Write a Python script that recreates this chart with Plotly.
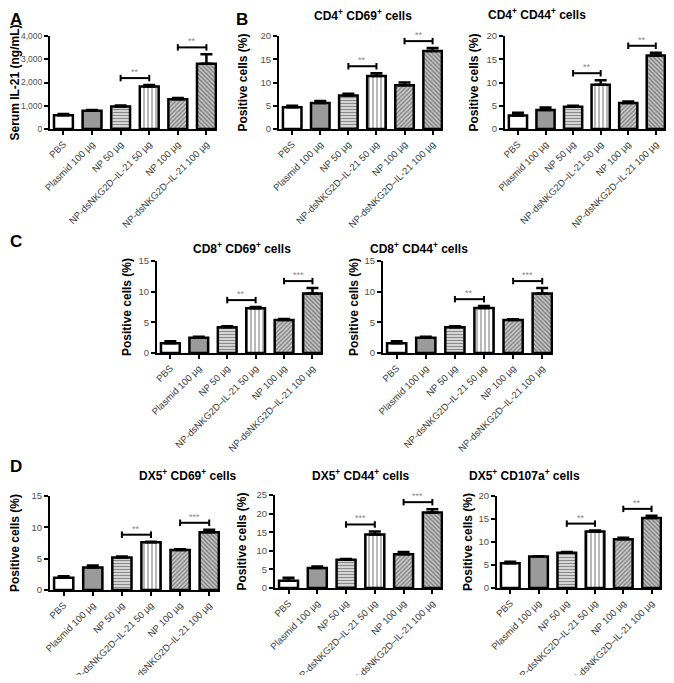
import plotly.graph_objects as go

categories = ["PBS", "Plasmid 100 µg", "NP 50 µg", "NP-dsNKG2D–IL-21 50 µg",
              "NP 100 µg", "NP-dsNKG2D–IL-21 100 µg"]

il21_mean = [590, 790, 970, 1830, 1280, 2810]
il21_err = [60, 30, 40, 60, 50, 400]
cd4_cd69_mean = [4.7, 5.6, 7.2, 11.4, 9.4, 16.8]
cd4_cd69_err = [0.3, 0.4, 0.4, 0.6, 0.6, 0.6]
cd4_cd44_mean = [2.9, 4.1, 4.8, 9.5, 5.6, 15.8]
cd4_cd44_err = [0.6, 0.5, 0.2, 1.0, 0.3, 0.6]
cd8_cd69_mean = [1.6, 2.5, 4.2, 7.3, 5.4, 9.7]
cd8_cd69_err = [0.3, 0.15, 0.15, 0.2, 0.15, 0.9]
cd8_cd44_mean = [1.6, 2.5, 4.2, 7.35, 5.4, 9.7]
cd8_cd44_err = [0.3, 0.15, 0.15, 0.3, 0.1, 0.9]
dx5_cd69_mean = [1.95, 3.6, 5.2, 7.6, 6.4, 9.2]
dx5_cd69_err = [0.25, 0.3, 0.15, 0.1, 0.1, 0.4]
dx5_cd44_mean = [1.95, 5.35, 7.6, 14.4, 9.1, 20.3]
dx5_cd44_err = [0.8, 0.4, 0.2, 0.8, 0.6, 0.9]
dx5_cd107a_mean = [5.4, 6.85, 7.65, 12.3, 10.6, 15.2]
dx5_cd107a_err = [0.3, 0.05, 0.2, 0.2, 0.3, 0.5]

stars_il21 = ["**", "**"]
stars_cd4_cd69 = ["**", "**"]
stars_cd4_cd44 = ["**", "**"]
stars_cd8_cd69 = ["**", "***"]
stars_cd8_cd44 = ["**", "***"]
stars_dx5_cd69 = ["**", "***"]
stars_dx5_cd44 = ["***", "***"]
stars_dx5_cd107a = ["**", "**"]

# the page body has a default 8px margin, so the figure is drawn 8px in from the corner
OFF = 8
W, H = 666, 667
FONT = "Liberation Sans, Arial, sans-serif"


def PX(x):
    return (x - OFF) / W


def PY(y):
    return 1 - (y - OFF) / H


panels = [
    # (mean, err, stars, title, title_y, ytitle, standoff, ytickfont, ymax, dtick, box(l, r, top, bottom), tickformat)
    (il21_mean, il21_err, stars_il21, None, None, "Serum IL-21 (ng/mL)", 3, 8.5, 4000, 1000, (50, 217, 36, 129), ",d"),
    (cd4_cd69_mean, cd4_cd69_err, stars_cd4_cd69, "CD4<sup>+</sup> CD69<sup>+</sup> cells", 15, "Positive cells (%)", 10, 9.5, 20, 5, (279, 443, 36, 129), None),
    (cd4_cd44_mean, cd4_cd44_err, stars_cd4_cd44, "CD4<sup>+</sup> CD44<sup>+</sup> cells", 14, "Positive cells (%)", 5, 9.5, 20, 5, (505, 666, 36, 129), None),
    (cd8_cd69_mean, cd8_cd69_err, stars_cd8_cd69, "CD8<sup>+</sup> CD69<sup>+</sup> cells", 248, "Positive cells (%)", 4, 9.5, 15, 5, (157, 323, 261, 353), None),
    (cd8_cd44_mean, cd8_cd44_err, stars_cd8_cd44, "CD8<sup>+</sup> CD44<sup>+</sup> cells", 248, "Positive cells (%)", 3, 9.5, 15, 5, (383, 553, 261, 353), None),
    (dx5_cd69_mean, dx5_cd69_err, stars_dx5_cd69, "DX5<sup>+</sup> CD69<sup>+</sup> cells", 475, "Positive cells (%)", 12, 9.5, 15, 5, (50, 220, 496, 590), None),
    (dx5_cd44_mean, dx5_cd44_err, stars_dx5_cd44, "DX5<sup>+</sup> CD44<sup>+</sup> cells", 475, "Positive cells (%)", 7, 9.5, 25, 5, (275, 443, 495, 588), None),
    (dx5_cd107a_mean, dx5_cd107a_err, stars_dx5_cd107a, "DX5<sup>+</sup> CD107a<sup>+</sup> cells", 475, "Positive cells (%)", 3, 9.5, 20, 5, (497, 662, 496, 588), None),
]

bar_styles = [
    dict(color="#ffffff"),
    dict(color="#9a9a9a"),
    dict(color="#d8d8d8", pattern=dict(shape="-", bgcolor="#dedede", fgcolor="#8a8a8a", size=3, solidity=0.4, fillmode="replace")),
    dict(color="#ffffff", pattern=dict(shape="|", bgcolor="#ffffff", fgcolor="#8a8a8a", size=4, solidity=0.3, fillmode="replace")),
    dict(color="#b8b8b8", pattern=dict(shape="/", bgcolor="#cacaca", fgcolor="#7a7a7a", size=3, solidity=0.4, fillmode="replace")),
    dict(color="#b0b0b0", pattern=dict(shape="\\", bgcolor="#c4c4c4", fgcolor="#747474", size=3, solidity=0.4, fillmode="replace")),
]

fig = go.Figure()
shapes = []
annotations = []
layout = {}

for k, (mean, err, stars, title, ty, ytitle, sto, ytf, ymax, dtick, box, tfmt) in enumerate(panels, start=1):
    l, r, t, b = box
    xa = "x" if k == 1 else f"x{k}"
    ya = "y" if k == 1 else f"y{k}"
    xname = "xaxis" if k == 1 else f"xaxis{k}"
    yname = "yaxis" if k == 1 else f"yaxis{k}"
    xs = list(range(len(categories)))
    for i in xs:
        st = bar_styles[i]
        marker = dict(color=st["color"], line=dict(color="black", width=2.5))
        if "pattern" in st:
            marker["pattern"] = st["pattern"]
        fig.add_trace(go.Bar(
            x=[i], y=[mean[i]], width=0.66, xaxis=xa, yaxis=ya, marker=marker,
            error_y=dict(type="data", array=[err[i]], arrayminus=[0], symmetric=False,
                         color="black", thickness=2.5, width=6),
            showlegend=False, hoverinfo="skip",
        ))
    layout[xname] = dict(
        domain=[PX(l), PX(r)], anchor=ya, range=[-0.47, 5.37], automargin=False,
        tickmode="array", tickvals=xs, ticktext=categories, tickangle=-45,
        showline=True, linecolor="black", linewidth=2, ticks="outside",
        ticklen=4, tickwidth=1.5, tickcolor="black", showgrid=False, zeroline=False,
        tickfont=dict(family=FONT, size=9.5, color="#404040"),
    )
    ydict = dict(
        domain=[PY(b), PY(t)], anchor=xa, range=[0, ymax], dtick=dtick, automargin=False,
        showline=True, linecolor="black", linewidth=2, ticks="outside",
        ticklen=4, tickwidth=1.5, tickcolor="black", showgrid=False, zeroline=False,
        tickfont=dict(family=FONT, size=ytf, color="#505050"),
        title=dict(text=f"<b>{ytitle}</b>", font=dict(family=FONT, size=12, color="black"), standoff=sto),
    )
    if tfmt:
        ydict["tickformat"] = tfmt
    layout[yname] = ydict

    # significance brackets between bars (2,3) and (4,5)
    for (i, j), s in zip([(2, 3), (4, 5)], stars):
        top = max(mean[i] + err[i], mean[j] + err[j])
        h = top + 0.075 * ymax
        cap = 0.035 * ymax
        shapes.append(dict(type="line", xref=xa, yref=ya, x0=i, x1=j, y0=h, y1=h,
                           line=dict(color="black", width=2)))
        for xx in (i, j):
            shapes.append(dict(type="line", xref=xa, yref=ya, x0=xx, x1=xx,
                               y0=h - cap, y1=h + cap, line=dict(color="black", width=2)))
        annotations.append(dict(x=(i + j) / 2, y=h, xref=xa, yref=ya, text=s,
                                showarrow=False, yanchor="bottom", yshift=-1,
                                font=dict(family=FONT, size=9, color="#8a8a8a")))
    if title:
        annotations.append(dict(x=PX((l + r) / 2 + 2), y=PY(ty), xref="paper", yref="paper",
                                text=f"<b>{title}</b>", showarrow=False, yanchor="middle",
                                font=dict(family=FONT, size=12, color="black")))

for letter, (px, py) in zip("ABCD", [(8, 8), (234, 8), (8, 230), (8, 455)]):
    annotations.append(dict(x=PX(px), y=PY(py), xref="paper", yref="paper", text=f"<b>{letter}</b>",
                            showarrow=False, xanchor="left", yanchor="top",
                            font=dict(family=FONT, size=17, color="black")))

fig.update_layout(
    width=W, height=H, margin=dict(l=0, r=0, t=0, b=0, autoexpand=False),
    paper_bgcolor="white", plot_bgcolor="white", showlegend=False, barmode="overlay",
    shapes=shapes, annotations=annotations,
    font=dict(family=FONT), **layout,
)

fig.write_html("out.html")
